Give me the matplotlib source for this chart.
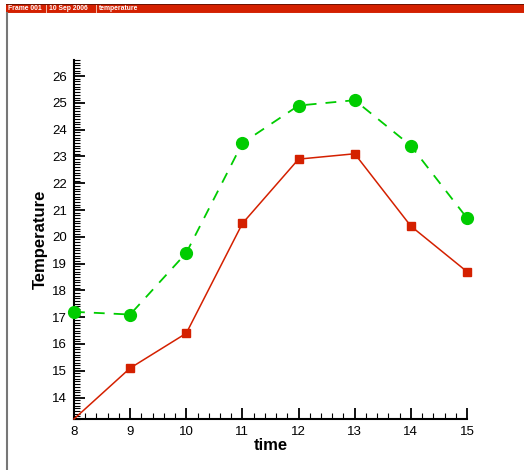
import numpy as np
import matplotlib
matplotlib.use("Agg")
import matplotlib.pyplot as plt
from matplotlib.ticker import MultipleLocator

plt.rcParams['font.family'] = ['Liberation Sans', 'DejaVu Sans']

# data
time = [8, 9, 10, 11, 12, 13, 14, 15]
temp_red = [13.2, 15.1, 16.4, 20.5, 22.9, 23.1, 20.4, 18.7]
temp_green = [17.2, 17.1, 19.4, 23.5, 24.9, 25.1, 23.4, 20.7]
banner_parts = ["Frame 001", "10 Sep 2006", "temperature"]

fig = plt.figure(figsize=(5.24, 4.70), dpi=100)

# frame header bar and left border, like the tecplot frame
bar = fig.add_axes([6/524, 1-13/470, 1-6/524, 9/470])
bar.set_xlim(6, 524)
bar.set_ylim(0, 9)
bar.axis('off')
bar.add_patch(plt.Rectangle((6, 0), 518, 9, color='#d42000'))
bar.plot([6, 524], [8.6, 8.6], color='#5a1000', lw=1.2)
bar.plot([6, 524], [0.2, 0.2], color='#c8b8a8', lw=0.8)
text_x = [8, 49, 99]
sep_x = [45.5, 95.5]
for txt, tx in zip(banner_parts, text_x):
    bar.text(tx, 4.3, txt, color='white', fontsize=4.9, va='center', ha='left',
             fontweight='bold')
for sx in sep_x:
    bar.plot([sx, sx], [1, 8], color='#f0c0b0', lw=0.7)
fig.add_artist(plt.Line2D([6.5/524, 6.5/524], [0, 1-13/470], color='#777777', lw=1.5,
                          transform=fig.transFigure))

ax = fig.add_axes([74/524, 1-419/470, (467-74)/524, (419-60)/470])
ax.plot(time, temp_green, color='#00cc00', lw=1.3, ls=(0, (6, 5)), marker='o', ms=8.5,
        clip_on=False, zorder=3)
ax.plot(time, temp_red, color='#d42000', lw=1.1, marker='s', ms=6,
        markevery=list(range(1, 8)), clip_on=False, zorder=3)

ax.set_xlim(8, 15)
ax.set_ylim(13.2, 26.6)
ax.xaxis.set_major_locator(MultipleLocator(1))
ax.xaxis.set_minor_locator(MultipleLocator(0.2))
ax.yaxis.set_minor_locator(MultipleLocator(0.1))
ax.set_yticks(np.arange(14, 27, 1))
ax.tick_params(which='major', direction='in', length=8, width=1.3, labelsize=9.5,
               pad=5)
ax.tick_params(which='minor', direction='in', length=4, width=0.8)
ax.spines['top'].set_visible(False)
ax.spines['right'].set_visible(False)
ax.spines['left'].set_linewidth(1.5)
ax.spines['bottom'].set_linewidth(1.5)

ax.set_xlabel('time', fontsize=12, fontweight='bold', labelpad=0)
ax.set_ylabel('Temperature', fontsize=12, fontweight='bold', labelpad=3)

plt.savefig('out.png', dpi=100)
